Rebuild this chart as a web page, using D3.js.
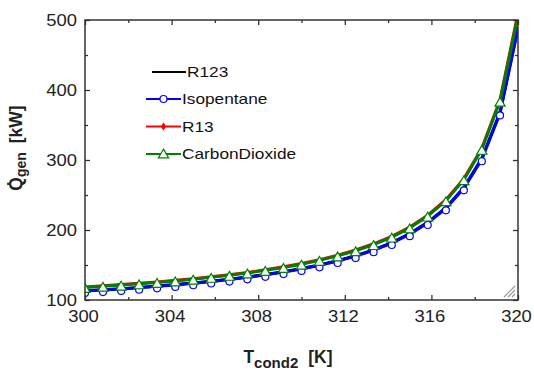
<!DOCTYPE html>
<html>
<head>
<meta charset="utf-8">
<script src="https://cdn.jsdelivr.net/npm/d3@7"></script>
<style>
  body { margin: 0; background: #fff; }
</style>
</head>
<body>
<div id="chart"></div>
<script>
// T_cond2 [K], 25 runs from 300 to 320
const tCond = [300, 300.83, 301.67, 302.5, 303.33, 304.17, 305, 305.83, 306.67, 307.5, 308.33, 309.17,
  310, 310.83, 311.67, 312.5, 313.33, 314.17, 315, 315.83, 316.67, 317.5, 318.33, 319.17, 320];

// Q_gen [kW]
const r123 = [113.1, 114.6, 116.2, 118.0, 119.9, 122.0, 124.3, 126.8, 129.6, 132.8, 136.3, 140.3,
  144.9, 150.1, 156.2, 163.3, 171.7, 182.1, 194.8, 210.9, 231.8, 260.7, 302.4, 368.2, 490];
const isopentane = [112.7, 114.2, 115.8, 117.6, 119.5, 121.6, 123.9, 126.4, 129.2, 132.4, 135.9, 139.9,
  144.4, 149.6, 155.7, 162.7, 171.1, 181.4, 194.0, 210.0, 230.9, 259.6, 301.1, 366.6, 488];
const r13 = [118.7, 120.3, 122.0, 123.8, 125.9, 128.1, 130.5, 133.2, 136.1, 139.4, 143.2, 147.4,
  152.1, 157.5, 164.0, 171.4, 180.3, 191.0, 204.3, 221.2, 243.3, 273.4, 317.2, 386.2, 510];
const carbonDioxide = [118.0, 119.6, 121.3, 123.1, 125.1, 127.3, 129.7, 132.4, 135.3, 138.6, 142.3, 146.5,
  151.2, 156.6, 163.0, 170.4, 179.2, 189.9, 203.1, 219.9, 241.8, 271.8, 315.3, 383.9, 506];

const seriesNames = ["R123", "Isopentane", "R13", "CarbonDioxide"];
const xTicks = [300, 304, 308, 312, 316, 320];
const xMinor = [302, 306, 310, 314, 318];
const yTicks = [100, 200, 300, 400, 500];
const yMinor = [150, 250, 350, 450];

var width = 534, height = 372;
var pLeft = 85, pRight = 518, pTop = 20, pBottom = 300;
var axisColor = "#333";
var font = "'Liberation Sans', Arial, sans-serif";

var x = d3.scaleLinear().domain([300, 320]).range([pLeft, pRight]);
var y = d3.scaleLinear().domain([100, 500]).range([pBottom, pTop]);

var svg = d3.select("#chart").append("svg")
    .attr("width", width)
    .attr("height", height)
    .style("font-family", font);

// text in the original is a little wider than Arial
function widen(sel, k) {
  sel.each(function() {
    var w = this.getComputedTextLength();
    d3.select(this).attr("textLength", w * k).attr("lengthAdjust", "spacingAndGlyphs");
  });
}

svg.append("clipPath").attr("id", "plot")
  .append("rect")
    .attr("x", pLeft).attr("y", pTop)
    .attr("width", pRight - pLeft).attr("height", pBottom - pTop);

// series
var series = [
  { name: seriesNames[0], values: r123, color: "#000000", marker: null },
  { name: seriesNames[1], values: isopentane, color: "#0000ff", marker: "circle" },
  { name: seriesNames[2], values: r13, color: "#ff0000", marker: "diamond" },
  { name: seriesNames[3], values: carbonDioxide, color: "#008000", marker: "triangle" }
];

var line = d3.line()
    .x(function(d) { return x(d[0]); })
    .y(function(d) { return y(d[1]); });

var triangle = d3.symbol().type(d3.symbolTriangle).size(45);
var diamond = d3.symbol().type(d3.symbolDiamond).size(22);

function drawMarker(g, kind, color) {
  if (kind === "circle") {
    g.append("circle").attr("r", 3.5)
      .attr("fill", "#fff").attr("stroke", color).attr("stroke-width", 1.2);
  } else if (kind === "triangle") {
    g.append("path").attr("d", triangle)
      .attr("fill", "#fff").attr("stroke", color).attr("stroke-width", 1.2);
  } else if (kind === "diamond") {
    g.append("path").attr("d", diamond).attr("fill", color);
  }
}

var plot = svg.append("g").attr("clip-path", "url(#plot)");

series.forEach(function(s) {
  var pts = tCond.map(function(t, i) { return [t, s.values[i]]; });
  plot.append("path")
      .datum(pts)
      .attr("fill", "none")
      .attr("stroke", s.color)
      .attr("stroke-width", 3)
      .attr("d", line);
  if (s.marker) {
    plot.selectAll(null)
        .data(pts.filter(function(d) { return d[1] < 480; }))
        .enter()
        .append("g")
        .attr("transform", function(d) { return "translate(" + x(d[0]) + "," + (y(d[1]) + 2) + ")"; })
        .each(function() { drawMarker(d3.select(this), s.marker, s.color); });
  }
});

// axes, ticks inside on all four sides
function styleAxis(g) {
  g.select(".domain").remove();
  g.selectAll(".tick line").attr("stroke", axisColor).attr("stroke-width", 1.3);
  g.selectAll(".tick text").attr("fill", "#222").style("font-size", "16px").style("font-family", font);
}

var gx = svg.append("g").attr("transform", "translate(0," + pBottom + ")")
    .call(d3.axisBottom(x).tickValues(xTicks).tickSize(-5).tickPadding(11).tickFormat(d3.format("d")))
    .call(styleAxis);
gx.selectAll(".tick text").attr("dx", -2);
widen(gx.selectAll(".tick text"), 1.15);

svg.append("g").attr("transform", "translate(0," + pBottom + ")")
    .call(d3.axisBottom(x).tickValues(xMinor).tickSize(-3).tickFormat(""))
    .call(styleAxis);
svg.append("g").attr("transform", "translate(0," + pTop + ")")
    .call(d3.axisTop(x).tickValues(xTicks).tickSize(-5).tickFormat(""))
    .call(styleAxis);
svg.append("g").attr("transform", "translate(0," + pTop + ")")
    .call(d3.axisTop(x).tickValues(xMinor).tickSize(-3).tickFormat(""))
    .call(styleAxis);

var gy = svg.append("g").attr("transform", "translate(" + pLeft + ",0)")
    .call(d3.axisLeft(y).tickValues(yTicks).tickSize(-5).tickPadding(8).tickFormat(d3.format("d")))
    .call(styleAxis);
widen(gy.selectAll(".tick text"), 1.15);

svg.append("g").attr("transform", "translate(" + pLeft + ",0)")
    .call(d3.axisLeft(y).tickValues(yMinor).tickSize(-3).tickFormat(""))
    .call(styleAxis);
svg.append("g").attr("transform", "translate(" + pRight + ",0)")
    .call(d3.axisRight(y).tickValues(yTicks).tickSize(-5).tickFormat(""))
    .call(styleAxis);
svg.append("g").attr("transform", "translate(" + pRight + ",0)")
    .call(d3.axisRight(y).tickValues(yMinor).tickSize(-3).tickFormat(""))
    .call(styleAxis);

// frame
svg.append("rect")
    .attr("x", pLeft).attr("y", pTop)
    .attr("width", pRight - pLeft).attr("height", pBottom - pTop)
    .attr("fill", "none")
    .attr("stroke", axisColor)
    .attr("stroke-width", 1.5);

// little grip in the corner
var grip = svg.append("g").attr("stroke", "#999").attr("stroke-width", 1.2);
[3, 7, 11].forEach(function(k) {
  grip.append("line")
      .attr("x1", pRight - 3 - k).attr("y1", pBottom - 3)
      .attr("x2", pRight - 3).attr("y2", pBottom - 3 - k);
});

// legend
var legend = svg.append("g");
var legendY = [72, 99, 126.5, 154];
series.forEach(function(s, i) {
  var g = legend.append("g").attr("transform", "translate(0," + legendY[i] + ")");
  var x0 = i === 0 ? 152 : 146, x1 = i === 0 ? 186 : 181;
  g.append("line")
      .attr("x1", x0).attr("x2", x1)
      .attr("stroke", s.color).attr("stroke-width", 2.2);
  if (s.marker) {
    var m = g.append("g").attr("transform", "translate(" + ((x0 + x1) / 2) + "," + (s.marker === "triangle" ? 1 : 0) + ")");
    drawMarker(m, s.marker, s.color);
  }
  var t = g.append("text")
      .attr("x", x1 + 1)
      .attr("dy", "0.36em")
      .attr("fill", "#111")
      .style("font-size", "15px")
      .text(s.name);
  widen(t, 1.15);
});

// axis titles
var xt = svg.append("text")
    .attr("x", 288).attr("y", 363)
    .attr("text-anchor", "middle")
    .attr("fill", "#222")
    .style("font-weight", "bold")
    .style("font-size", "17.5px");
xt.append("tspan").text("T");
xt.append("tspan").attr("dy", 5).style("font-size", "15px").text("cond2");
xt.append("tspan").attr("dy", -5).attr("dx", 10).text("[K]");

var yt = svg.append("text")
    .attr("transform", "translate(22,148) rotate(-90)")
    .attr("text-anchor", "middle")
    .attr("fill", "#222")
    .style("font-weight", "bold")
    .style("font-size", "17.5px");
yt.append("tspan").text("Q\u0307");
yt.append("tspan").attr("dy", 4).style("font-size", "14px").text("gen");
yt.append("tspan").attr("dy", -4).attr("dx", 9).text("[kW]");
</script>
</body>
</html>
